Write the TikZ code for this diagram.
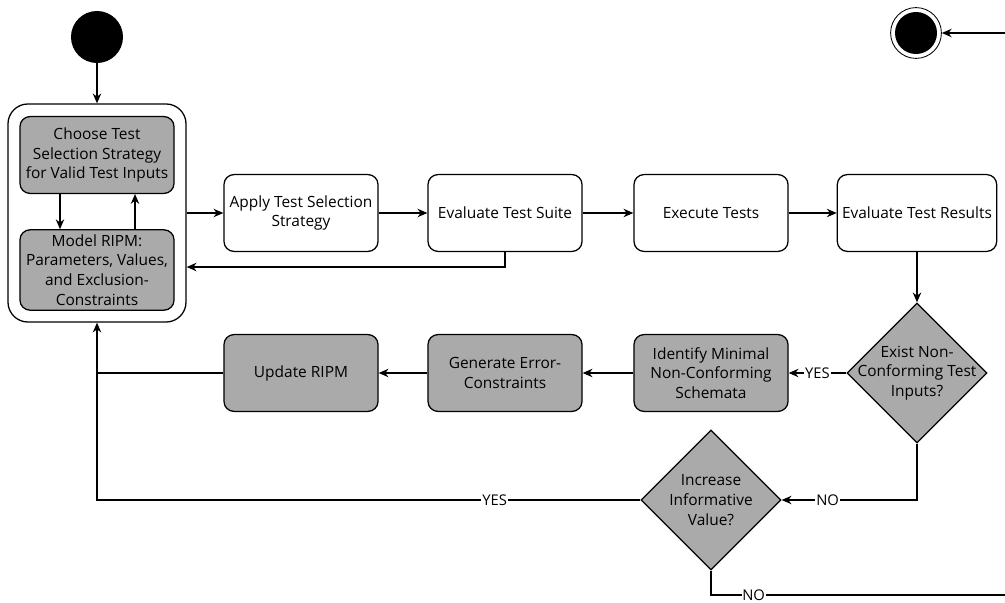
\documentclass[tikz,border=0pt]{standalone}
\usepackage{fontspec}
\setmainfont{Open Sans}
\usetikzlibrary{arrows.meta,shapes.geometric}
\definecolor{boxgray}{RGB}{170,170,170}
\begin{document}
\begin{tikzpicture}[x=0.025cm,y=-0.025cm,
  every node/.style={font=\fontsize{11}{14}\selectfont},
  act/.style={draw,rounded corners=0.25cm,minimum width=3.85cm,minimum height=1.92cm,align=center,line width=0.9pt},
  grayact/.style={act,fill=boxgray},
  decision/.style={draw,diamond,fill=boxgray,minimum width=3.5cm,minimum height=3.5cm,inner sep=0pt,line width=0.9pt},
  lbl/.style={fill=white,inner sep=1pt,font=\fontsize{10.5}{11}\selectfont},
  arr/.style={-{Stealth[length=7pt,width=6pt]},line width=0.9pt},
  ln/.style={line width=0.9pt}]
\useasboundingbox (0,0) rectangle (1005,603);
\clip (0,0) rectangle (1005,603);
\node[circle,fill=black,minimum size=1.3cm,inner sep=0pt] (start) at (97,37) {};
\node[draw,rounded corners=0.5cm,minimum width=4.45cm,minimum height=5.45cm,line width=0.9pt] (frame) at (97,213) {};
\node[grayact] (choose) at (97,155) {Choose Test\\Selection Strategy\\for Valid Test Inputs};
\node[grayact] (model) at (97,270) {Model RIPM:\\Parameters, Values,\\and Exclusion-\\Constraints};
\node[act] (apply) at (301,213) {Apply Test Selection\\Strategy};
\node[act] (suite) at (505,213) {Evaluate Test Suite};
\node[act] (exec) at (711,213) {Execute Tests};
\node[act] (results) at (917,213) {Evaluate Test Results};
\node[decision,label={[align=center]center:Exist Non-\\Conforming Test\\Inputs?}] (exist) at (917,373) {};
\node[grayact] (ident) at (711,373) {Identify Minimal\\Non-Conforming\\Schemata};
\node[grayact] (gen) at (505,373) {Generate Error-\\Constraints};
\node[grayact] (upd) at (301,373) {Update RIPM};
\node[decision,label={[align=center]center:Increase\\Informative\\Value?}] (incr) at (711,500) {};
\node[circle,draw,line width=0.6pt,minimum size=1.27cm,inner sep=0pt] (final) at (916,33) {};
\node[circle,fill=black,minimum size=1.05cm,inner sep=0pt] at (final) {};
\coordinate (loopa) at (1015,595);

\draw[arr] (start) -- (frame.north);
\draw[arr] ([xshift=-0.925cm]choose.south) -- ([xshift=-0.925cm]model.north);
\draw[arr] ([xshift=0.95cm]model.north) -- ([xshift=0.95cm]choose.south);
\draw[arr] (frame.east) -- (apply.west);
\draw[arr] (apply) -- (suite);
\draw[arr] (suite) -- (exec);
\draw[arr] (exec) -- (results);
\draw[arr] (suite.south) |- ([yshift=-1.35cm]frame.east);
\draw[arr] (results) -- (exist);
\draw[arr] (exist.west) -- (ident.east) node[midway,lbl] {YES};
\draw[arr] (ident) -- (gen);
\draw[arr] (gen) -- (upd);
\draw[ln] (upd.west) -- (upd.west -| frame.south);
\draw[arr] (exist.south) |- (incr.east) node[pos=0.83,lbl] {NO};
\draw[arr] (incr.west) -| (frame.south) node[pos=0.134,lbl] {YES};
\draw[ln] (incr.south) |- (loopa) node[pos=0.57,lbl,inner sep=0.5pt] {NO};
\draw[arr] (loopa) |- (final);
\end{tikzpicture}
\end{document}
